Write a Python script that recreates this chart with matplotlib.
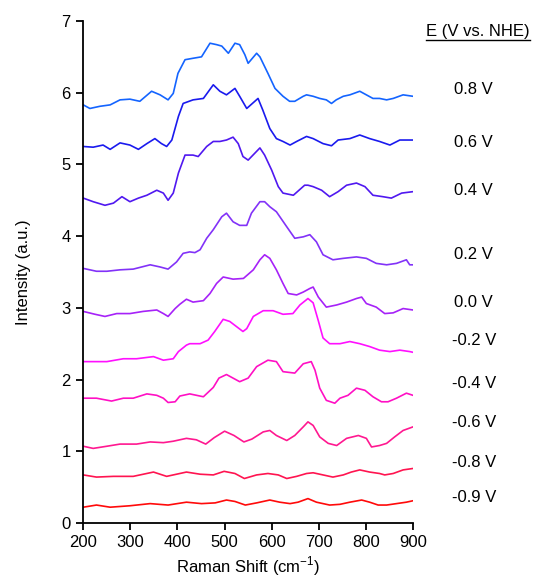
import matplotlib
matplotlib.use("Agg")
import matplotlib.pyplot as plt
from matplotlib.lines import Line2D

plt.rcParams['font.family'] = ['Liberation Sans', 'DejaVu Sans']
plt.rcParams['mathtext.fontset'] = 'custom'
plt.rcParams['mathtext.rm'] = 'Liberation Sans'

# spectra (Raman shift in cm-1, intensity a.u.)
x_p08 = [200, 214, 235, 257, 278, 299, 320, 345, 363, 380, 391, 401, 416, 433, 451, 469, 483, 494, 508, 522,
         532, 543, 550, 568, 575, 592, 607, 624, 638, 649, 667, 674, 688, 702, 716, 727, 737, 752, 766, 787,
         801, 815, 829, 844, 858, 879, 900]
y_p08 = [5.83, 5.78, 5.81, 5.83, 5.90, 5.91, 5.88, 6.02, 5.97, 5.90, 5.99, 6.27, 6.46, 6.48, 6.50, 6.69, 6.67, 6.65, 6.55, 6.69,
         6.67, 6.53, 6.41, 6.55, 6.50, 6.27, 6.06, 5.95, 5.88, 5.88, 5.95, 5.97, 5.95, 5.92, 5.90, 5.85, 5.90, 5.95, 5.97, 6.02,
         5.97, 5.92, 5.92, 5.90, 5.92, 5.97, 5.95]

x_p06 = [200, 221, 242, 257, 278, 299, 317, 335, 352, 366, 377, 388, 402, 412, 433, 455, 476, 490, 504, 522,
         532, 547, 571, 581, 596, 610, 624, 639, 653, 674, 688, 709, 727, 741, 766, 787, 808, 829, 851, 872, 900]
y_p06 = [5.25, 5.24, 5.27, 5.21, 5.30, 5.27, 5.21, 5.29, 5.36, 5.29, 5.25, 5.34, 5.67, 5.85, 5.90, 5.92, 6.11, 6.02, 5.97, 6.06,
         5.95, 5.78, 5.92, 5.76, 5.50, 5.36, 5.32, 5.27, 5.32, 5.39, 5.36, 5.29, 5.26, 5.34, 5.36, 5.41, 5.36, 5.32, 5.27, 5.34, 5.34]

x_p04 = [200, 221, 246, 264, 282, 299, 317, 335, 356, 370, 380, 391, 402, 416, 433, 444, 462, 476, 490, 504,
         518, 529, 539, 550, 575, 585, 600, 614, 624, 646, 670, 677, 688, 706, 723, 741, 759, 780, 798, 815,
         836, 854, 876, 900]
y_p04 = [4.53, 4.48, 4.43, 4.46, 4.55, 4.48, 4.53, 4.57, 4.64, 4.60, 4.50, 4.60, 4.88, 5.13, 5.13, 5.11, 5.25, 5.32, 5.32, 5.34,
         5.38, 5.29, 5.11, 5.06, 5.23, 5.13, 4.92, 4.69, 4.60, 4.57, 4.71, 4.71, 4.69, 4.64, 4.55, 4.62, 4.71, 4.74, 4.69, 4.57,
         4.55, 4.53, 4.60, 4.62]

x_p02 = [200, 228, 250, 278, 306, 342, 363, 380, 398, 412, 426, 437, 448, 462, 476, 494, 504, 518, 532, 547,
         557, 575, 585, 596, 610, 632, 649, 667, 681, 695, 709, 730, 752, 780, 801, 822, 844, 865, 886, 893, 900]
y_p02 = [3.55, 3.51, 3.51, 3.53, 3.54, 3.60, 3.57, 3.54, 3.64, 3.76, 3.78, 3.77, 3.81, 3.97, 4.09, 4.27, 4.32, 4.20, 4.15, 4.15,
         4.32, 4.48, 4.48, 4.41, 4.34, 4.13, 3.97, 3.99, 4.02, 3.92, 3.74, 3.67, 3.69, 3.71, 3.69, 3.62, 3.60, 3.62, 3.67, 3.60, 3.60]

x_p00 = [200, 225, 246, 271, 299, 327, 356, 370, 380, 395, 405, 419, 433, 455, 469, 483, 497, 518, 540, 561,
         575, 585, 596, 610, 624, 635, 653, 667, 681, 688, 699, 716, 738, 759, 780, 791, 801, 822, 840, 858,
         879, 900]
y_p00 = [2.95, 2.91, 2.88, 2.92, 2.92, 2.95, 2.97, 2.92, 2.88, 2.99, 3.05, 3.12, 3.08, 3.10, 3.20, 3.34, 3.43, 3.40, 3.41, 3.53,
         3.67, 3.74, 3.69, 3.53, 3.34, 3.20, 3.18, 3.22, 3.27, 3.29, 3.15, 3.01, 3.04, 3.08, 3.13, 3.15, 3.06, 3.01, 2.92, 2.93,
         2.99, 2.97]

x_m02 = [200, 225, 250, 285, 313, 349, 370, 391, 402, 419, 426, 448, 465, 479, 497, 511, 525, 539, 547, 561,
         582, 603, 624, 645, 660, 677, 688, 699, 709, 723, 745, 766, 787, 808, 829, 851, 872, 893, 900]
y_m02 = [2.25, 2.25, 2.25, 2.29, 2.29, 2.32, 2.27, 2.29, 2.39, 2.48, 2.50, 2.50, 2.55, 2.67, 2.84, 2.81, 2.74, 2.67, 2.71, 2.88,
         2.96, 2.96, 2.91, 2.92, 3.04, 3.13, 3.07, 2.82, 2.58, 2.50, 2.50, 2.53, 2.50, 2.46, 2.41, 2.39, 2.41, 2.39, 2.38]

x_m04 = [200, 228, 260, 285, 306, 335, 356, 370, 380, 395, 405, 426, 455, 476, 488, 504, 518, 532, 550, 568,
         592, 610, 624, 649, 667, 684, 692, 702, 716, 734, 745, 762, 780, 798, 815, 833, 847, 865, 886, 900]
y_m04 = [1.74, 1.74, 1.70, 1.74, 1.74, 1.80, 1.78, 1.74, 1.68, 1.69, 1.77, 1.80, 1.76, 1.89, 2.02, 2.07, 2.02, 1.97, 2.02, 2.18,
         2.27, 2.25, 2.11, 2.09, 2.22, 2.25, 2.13, 1.88, 1.71, 1.67, 1.74, 1.78, 1.88, 1.85, 1.76, 1.69, 1.69, 1.74, 1.81, 1.78]

x_m06 = [200, 221, 250, 278, 313, 342, 370, 391, 419, 440, 460, 478, 500, 520, 541, 558, 582, 596, 610, 632,
         649, 667, 677, 688, 702, 720, 738, 759, 784, 801, 812, 829, 844, 861, 879, 900]
y_m06 = [1.07, 1.04, 1.07, 1.10, 1.10, 1.13, 1.12, 1.14, 1.18, 1.16, 1.10, 1.19, 1.28, 1.22, 1.13, 1.17, 1.27, 1.29, 1.22, 1.15,
         1.22, 1.34, 1.41, 1.36, 1.20, 1.11, 1.08, 1.18, 1.22, 1.18, 1.06, 1.08, 1.11, 1.20, 1.29, 1.34]

x_m08 = [200, 228, 264, 306, 349, 377, 419, 448, 476, 499, 522, 542, 568, 592, 614, 632, 653, 674, 688, 709,
         730, 752, 769, 787, 808, 829, 840, 858, 879, 900]
y_m08 = [0.67, 0.64, 0.65, 0.65, 0.71, 0.65, 0.71, 0.68, 0.67, 0.72, 0.69, 0.62, 0.67, 0.69, 0.67, 0.62, 0.65, 0.69, 0.70, 0.67,
         0.64, 0.67, 0.71, 0.74, 0.71, 0.69, 0.67, 0.69, 0.74, 0.76]

x_m09 = [200, 228, 257, 299, 342, 380, 419, 451, 480, 504, 522, 544, 568, 596, 617, 639, 656, 677, 695, 723,
         745, 766, 791, 808, 826, 844, 865, 886, 900]
y_m09 = [0.22, 0.25, 0.22, 0.24, 0.27, 0.25, 0.29, 0.27, 0.28, 0.32, 0.30, 0.25, 0.28, 0.32, 0.29, 0.27, 0.29, 0.34, 0.29, 0.25,
         0.26, 0.29, 0.32, 0.29, 0.25, 0.25, 0.27, 0.29, 0.31]

potentials = ['0.8 V', '0.6 V', '0.4 V', '0.2 V', '0.0 V', '-0.2 V', '-0.4 V', '-0.6 V', '-0.8 V', '-0.9 V']
label_y = [6.05, 5.31, 4.63, 3.75, 3.08, 2.55, 1.95, 1.40, 0.85, 0.35]
colours = ['#1464ff', '#1a1aee', '#5018f0', '#8232f8', '#a622f8', '#ff10ff', '#ff10c4', '#ff1890', '#ff1450', '#ff0a0a']

spectra = [(x_p08, y_p08), (x_p06, y_p06), (x_p04, y_p04), (x_p02, y_p02), (x_p00, y_p00),
           (x_m02, y_m02), (x_m04, y_m04), (x_m06, y_m06), (x_m08, y_m08), (x_m09, y_m09)]

fig = plt.figure(figsize=(5.36, 5.78), dpi=100)
ax = fig.add_axes([0.1554, 0.0952, 0.6151, 0.8685])

for (xs, ys), c in zip(spectra, colours):
    ax.plot(xs, ys, color=c, lw=1.2)

ax.set_xlim(200, 900)
ax.set_ylim(0, 7)
ax.set_xticks(range(200, 901, 100))
ax.set_yticks(range(0, 8))
ax.spines['top'].set_visible(False)
ax.spines['right'].set_visible(False)
for s in ['left', 'bottom']:
    ax.spines[s].set_linewidth(1.3)
ax.tick_params(direction='out', length=5, width=1.3, labelsize=12, pad=4)
ax.set_xlabel('Raman Shift (cm$^{-1}$)', fontsize=12, labelpad=3)
ax.set_ylabel('Intensity (a.u.)', fontsize=12, labelpad=22)

# potential labels outside the axes, right side
for lab, yv in zip(potentials, label_y):
    ax.text(1029, yv, lab, fontsize=12, ha='center', va='center', clip_on=False)

hdr = ax.text(1038, 6.85, 'E (V vs. NHE)', fontsize=12, ha='center', va='center', clip_on=False)

fig.canvas.draw()
bb = hdr.get_window_extent().transformed(fig.transFigure.inverted())
fig.add_artist(Line2D([bb.x0, bb.x1], [bb.y0 - 0.002, bb.y0 - 0.002], color='black', lw=1.0,
                      transform=fig.transFigure))

fig.savefig('out.png', dpi=100)
